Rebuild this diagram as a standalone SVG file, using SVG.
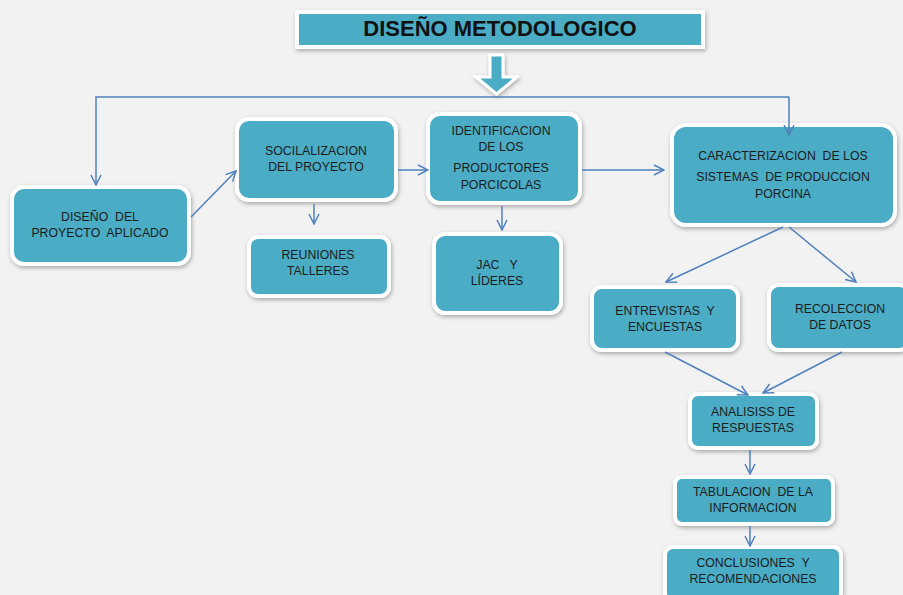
<svg xmlns="http://www.w3.org/2000/svg" width="903" height="595" viewBox="0 0 903 595">
<defs>
<filter id="sh" x="-20%" y="-20%" width="140%" height="150%">
<feDropShadow dx="1" dy="2" stdDeviation="2" flood-color="#000" flood-opacity="0.3"/>
</filter>
<marker id="ah" viewBox="0 0 12 12" refX="11" refY="6" markerWidth="12" markerHeight="12" markerUnits="userSpaceOnUse" orient="auto">
<path d="M1,1 L11,6 L1,11" fill="none" stroke="#4f81bd" stroke-width="1.5"/>
</marker>
</defs>
<style>
.box{fill:#4bacc6;stroke:#fff;stroke-width:4;filter:url(#sh)}
.t{font-family:"Liberation Sans",Arial,sans-serif;font-size:12.3px;fill:#1c1c1c;text-anchor:middle;white-space:pre}
.c{fill:none;stroke:#4f81bd;stroke-width:1.5;marker-end:url(#ah)}
</style>
<rect width="903" height="595" fill="#f2f2f2"/>
<g id="title">
<rect x="297" y="12" width="406" height="35" fill="#4bacc6" stroke="#fff" stroke-width="4" filter="url(#sh)"/>
<text x="500" y="36" font-family="Liberation Sans,Arial,sans-serif" font-size="22" font-weight="bold" fill="#111" text-anchor="middle">DISEÑO METODOLOGICO</text>
</g>
<g id="bigarrow">
<path d="M490,55 L503,55 L503,77 L517,77 L496.5,94 L476,77 L490,77 Z" fill="#4bacc6" stroke="#fff" stroke-width="3" filter="url(#sh)"/>
</g>
<g id="diseno">
<rect class="box" x="12" y="187" width="177" height="77" rx="12"/>
<text class="t" x="100" y="221">DISEÑO  DEL</text>
<text class="t" x="100" y="237">PROYECTO  APLICADO</text>
</g>
<g id="socializacion">
<rect class="box" x="237" y="119" width="159" height="81" rx="12"/>
<text class="t" x="316" y="155">SOCILALIZACION</text>
<text class="t" x="316" y="171">DEL PROYECTO</text>
</g>
<g id="reuniones">
<rect class="box" x="249" y="237" width="140" height="59" rx="9"/>
<text class="t" x="318" y="259">REUNIONES</text>
<text class="t" x="318" y="275">TALLERES</text>
</g>
<g id="identificacion">
<rect class="box" x="428" y="114" width="152" height="89" rx="12"/>
<text class="t" x="501" y="135">IDENTIFICACION</text>
<text class="t" x="501" y="151">DE LOS</text>
<text class="t" x="501" y="172">PRODUCTORES</text>
<text class="t" x="501" y="189">PORCICOLAS</text>
</g>
<g id="jac">
<rect class="box" x="434" y="234" width="127" height="79" rx="11"/>
<text class="t" x="497" y="269">JAC   Y</text>
<text class="t" x="497" y="285">LÍDERES</text>
</g>
<g id="caracterizacion">
<rect class="box" x="672" y="125" width="223" height="100" rx="14"/>
<text class="t" x="783" y="160">CARACTERIZACION  DE LOS</text>
<text class="t" x="783" y="181">SISTEMAS  DE PRODUCCION</text>
<text class="t" x="783" y="198">PORCINA</text>
</g>
<g id="entrevistas">
<rect class="box" x="592" y="287" width="146" height="63" rx="10"/>
<text class="t" x="665" y="315">ENTREVISTAS  Y</text>
<text class="t" x="665" y="331">ENCUESTAS</text>
</g>
<g id="recoleccion">
<rect class="box" x="769" y="285" width="140" height="65" rx="10"/>
<text class="t" x="840" y="313">RECOLECCION</text>
<text class="t" x="840" y="329">DE DATOS</text>
</g>
<g id="analisis">
<rect class="box" x="690" y="394" width="127" height="54" rx="8"/>
<text class="t" x="753" y="416">ANALISISS DE</text>
<text class="t" x="753" y="432">RESPUESTAS</text>
</g>
<g id="tabulacion">
<rect class="box" x="675" y="477" width="158" height="47" rx="7"/>
<text class="t" x="753" y="496">TABULACION  DE LA</text>
<text class="t" x="753" y="512">INFORMACION</text>
</g>
<g id="conclusiones">
<rect class="box" x="665" y="547" width="176" height="54" rx="8"/>
<text class="t" x="753" y="567">CONCLUSIONES  Y</text>
<text class="t" x="753" y="583">RECOMENDACIONES</text>
</g>
<g id="connectors">
<path class="c" d="M789,97 L96,97 L96,185"/>
<path class="c" d="M789,97 L789,135"/>
<path class="c" d="M191,217 L236,171"/>
<path class="c" d="M398,170 L428,170"/>
<path class="c" d="M314,204 L314,224"/>
<path class="c" d="M582,170 L664,170"/>
<path class="c" d="M502,206 L502,230"/>
<path class="c" d="M783,227 L666,282"/>
<path class="c" d="M789,227 L856,282"/>
<path class="c" d="M665,352 L748,395"/>
<path class="c" d="M842,352 L763,393"/>
<path class="c" d="M750,450 L750,474"/>
<path class="c" d="M750,526 L750,546"/>
</g>
</svg>
